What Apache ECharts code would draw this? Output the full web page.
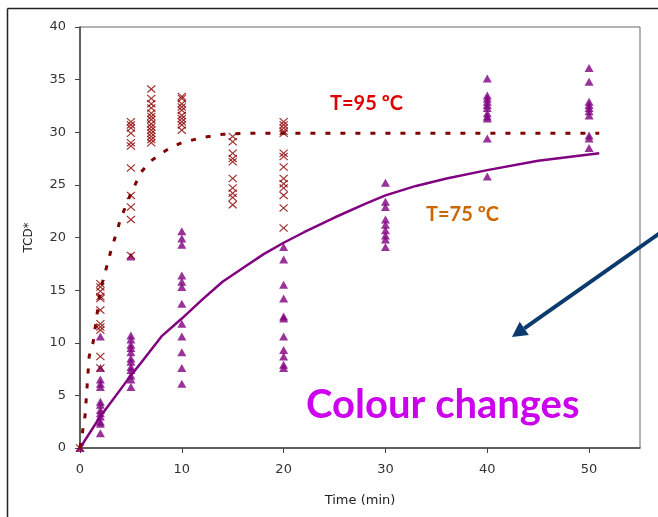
<!DOCTYPE html>
<html><head><meta charset="utf-8">
<script src="https://cdn.jsdelivr.net/npm/echarts@6/dist/echarts.min.js"></script>
<style>html,body{margin:0;padding:0;background:#fff}#c{width:658px;height:517px}</style>
</head><body><div id="c"></div>
<script>
// 95 ºC measurements (crosses): [time, TCD*]
const t95_0  = [0];
const t95_2  = [15.6,15.3,14.9,14.4,14.2,13.1,11.8,11.5,11.2,8.7,7.6];
const t95_5  = [31.0,30.7,30.4,29.9,29.0,28.7,26.6,24.0,22.9,21.7,18.3];
const t95_7  = [34.1,33.2,32.7,32.3,31.8,31.5,31.2,30.8,30.5,30.2,29.9,29.6,29.3,29.0];
const t95_10 = [33.4,33.2,32.7,32.4,32.1,31.6,31.3,31.0,30.7,30.2];
const t95_15 = [29.6,29.1,28.0,27.5,27.2,25.6,24.7,24.2,23.8,23.1];
const t95_20 = [31.0,30.7,30.4,30.1,29.9,28.0,27.7,26.7,25.6,25.1,24.7,24.0,22.8,20.9];
// 75 ºC measurements (triangles)
const t75_0  = [0];
const t75_2  = [10.6,7.6,6.5,6.1,5.8,4.4,4.1,3.6,3.3,3.0,2.5,2.3,1.4];
const t75_5  = [18.2,10.7,10.3,9.8,9.5,9.1,8.5,8.2,7.7,7.4,6.9,6.5,5.8];
const t75_10 = [20.6,19.9,19.3,16.4,15.8,15.3,13.7,11.8,10.6,9.1,7.6,6.1];
const t75_20 = [19.1,17.9,15.5,14.2,12.5,12.3,10.6,9.3,8.7,7.9,7.6];
const t75_30 = [25.2,23.4,22.9,21.7,21.2,20.7,20.2,19.8,19.1];
const t75_40 = [35.1,33.5,33.2,32.9,32.6,32.3,31.8,31.5,31.3,29.4,25.8];
const t75_50 = [36.1,34.8,32.9,32.6,32.3,32.0,31.6,29.7,29.4,28.5];
// fitted curves
const curve95 = [[0,0],[0.5,3.1],[0.9,8.7],[1.3,10.1],[2,15.0],[3,18.6],[4,21.8],[5,24.2],[6,26.2],[7,27.3],[8,28.0],[9,28.6],[10,29.0],[12,29.5],[14,29.8],[16,29.9],[51,29.9]];
const curve75 = [[0,0],[2,3.0],[5,6.9],[6,8.1],[8,10.6],[10,12.3],[12,14.1],[14,15.8],[16,17.1],[18,18.4],[20,19.5],[22,20.5],[25,21.9],[28,23.2],[30,24.0],[33,24.9],[36,25.6],[40,26.4],[45,27.3],[51,28.0]];
const xTicks = [0,10,20,30,40,50];

function pairs(list){ const out=[]; list.forEach(([t,arr])=>arr.forEach(v=>out.push([t,v]))); return out; }
const pts95 = pairs([[0,t95_0],[2,t95_2],[5,t95_5],[7,t95_7],[10,t95_10],[15,t95_15],[20,t95_20]]);
const pts75 = pairs([[0,t75_0],[2,t75_2],[5,t75_5],[10,t75_10],[20,t75_20],[30,t75_30],[40,t75_40],[50,t75_50]]);

const crossPath = 'path://M0,1 L1,0 L5,4 L9,0 L10,1 L6,5 L10,9 L9,10 L5,6 L1,10 L0,9 L4,5 Z';
const font = 'DejaVu Sans';

// arrow geometry (annotation)
const tip=[512,337], start=[660,233];
const dx=tip[0]-start[0], dy=tip[1]-start[1], L=Math.hypot(dx,dy), ux=dx/L, uy=dy/L;
const hl=15, hw=8;
const base=[tip[0]-hl*ux, tip[1]-hl*uy];
const head=[tip,[base[0]-hw*uy, base[1]+hw*ux],[base[0]+hw*uy, base[1]-hw*ux]];

const chart = echarts.init(document.getElementById('c'), null, {renderer:'canvas'});
chart.setOption({
  animation:false,
  backgroundColor:'#fff',
  grid:{left:80,right:18,top:27,bottom:69,show:true,borderColor:'#666',borderWidth:1,backgroundColor:'transparent'},
  xAxis:{type:'value',min:0,max:55,
    name:'Time (min)',nameLocation:'middle',nameGap:46,
    nameTextStyle:{fontFamily:font,fontSize:13,color:'#222'},
    axisLine:{lineStyle:{color:'#444',width:1.5}},
    axisTick:{show:true,length:5,lineStyle:{color:'#444'},customValues:xTicks},
    axisLabel:{fontFamily:font,fontSize:13,color:'#333',margin:15,customValues:xTicks},
    splitLine:{show:false}},
  yAxis:{type:'value',min:0,max:40,interval:5,
    name:'TCD*',nameLocation:'middle',nameGap:45,nameRotate:90,
    nameTextStyle:{fontFamily:font,fontSize:12,color:'#222'},
    axisLine:{show:true,lineStyle:{color:'#444',width:1.5}},
    axisTick:{show:true,length:5,lineStyle:{color:'#444'}},
    axisLabel:{fontFamily:font,fontSize:13,color:'#333',margin:14},
    splitLine:{show:false}},
  series:[
    {type:'scatter',data:pts75,symbol:'triangle',symbolSize:[9,8],itemStyle:{color:'#800080'},z:2},
    {type:'scatter',data:pts95,symbol:crossPath,symbolSize:[9,8],itemStyle:{color:'#8b0000'},z:3},
    {type:'line',data:curve75,showSymbol:false,symbol:'none',smooth:false,lineStyle:{color:'#800080',width:2.5},z:4},
    {type:'line',data:curve95,showSymbol:false,symbol:'none',smooth:false,lineStyle:{color:'#800000',width:3,type:[5,10],cap:'butt'},z:4}
  ],
  graphic:[
    {type:'line',shape:{x1:7.5,y1:8.5,x2:658,y2:8.5},style:{stroke:'#222',lineWidth:1.5}},
    {type:'line',shape:{x1:7.5,y1:8.5,x2:7.5,y2:517},style:{stroke:'#222',lineWidth:1.5}},
    {type:'text',x:330,y:104,style:{text:'T=95 ºC',fill:'#e00000',font:'bold 20px Lato',verticalAlign:'middle'}},
    {type:'text',x:426,y:215,style:{text:'T=75 ºC',fill:'#cc6600',font:'bold 20px Lato',verticalAlign:'middle'}},
    {type:'text',x:306,y:405,style:{text:'Colour changes',fill:'#cc00ee',font:'bold 40px Lato',verticalAlign:'middle'}},
    {type:'line',shape:{x1:start[0],y1:start[1],x2:base[0],y2:base[1]},style:{stroke:'#0b3a6e',lineWidth:4}},
    {type:'polygon',shape:{points:head},style:{fill:'#0b3a6e'}}
  ]
});
</script></body></html>
